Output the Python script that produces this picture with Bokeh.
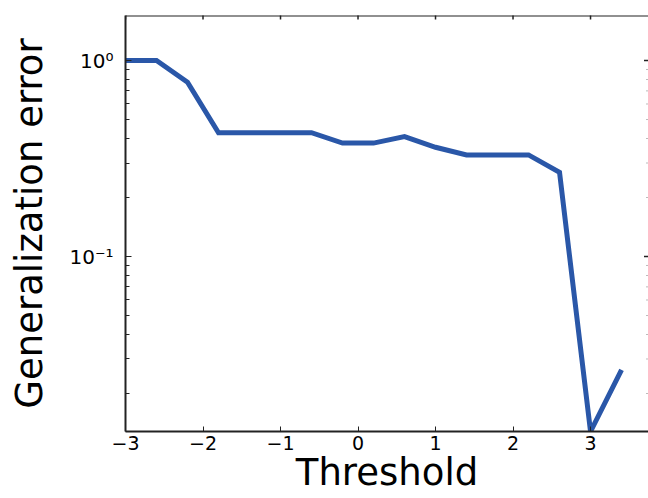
import math
from bokeh.plotting import figure
from bokeh.models import Range1d, FixedTicker, CustomJSTickFormatter
from bokeh.embed import file_html
from bokeh.resources import INLINE

# data
threshold = [-3.0, -2.6, -2.2, -1.8, -1.4, -1.0, -0.6, -0.2, 0.2, 0.6, 1.0, 1.4, 1.8, 2.2, 2.6, 3.0, 3.4]
gen_error = [1.0, 1.0, 0.775, 0.428, 0.428, 0.428, 0.428, 0.379, 0.379, 0.409, 0.361, 0.330, 0.330, 0.330, 0.269, 0.0128, 0.0264]

x_ticks = [-3, -2, -1, 0, 1, 2, 3]
x_tick_labels = ["\u22123", "\u22122", "\u22121", "0", "1", "2", "3"]
y_ticks = [0.1, 1.0]
y_tick_labels = ["10\u207b\u00b9", "10\u2070"]
y_minor = [0.02, 0.03, 0.04, 0.05, 0.06, 0.07, 0.08, 0.09, 0.2, 0.3, 0.4, 0.5, 0.6, 0.7, 0.8, 0.9]

AX = "#222222"
FONT = "DejaVu Sans"

xr = Range1d(-3, 3.748)
yr = Range1d(0.0128, 1.697)

p = figure(width=648, height=498, y_axis_type="log",
           x_range=xr, y_range=yr,
           output_backend="svg", toolbar_location=None,
           min_border_left=125, min_border_right=0, min_border_top=15, min_border_bottom=67)
p.outline_line_color = None
p.grid.visible = False
p.background_fill_color = "white"
p.border_fill_color = "white"

def fmt(tv, tl):
    return CustomJSTickFormatter(args=dict(tvals=tv, tlabels=tl), code="""
        for (let i = 0; i < tvals.length; i++) {
            if (Math.abs(tick - tvals[i]) < 1e-9 * Math.max(1, Math.abs(tvals[i]))) return tlabels[i];
        }
        return "";
    """)

xa = p.xaxis[0]
xa.ticker = FixedTicker(ticks=x_ticks, minor_ticks=[])
xa.formatter = fmt(x_ticks, x_tick_labels)
xa.major_tick_in = 5
xa.major_tick_out = 0
xa.minor_tick_in = 0
xa.minor_tick_out = 0
xa.axis_line_width = 2
xa.axis_line_color = AX
xa.major_tick_line_color = AX
xa.major_label_text_font = FONT
xa.major_label_text_font_size = "19px"
xa.major_label_text_color = "black"
xa.major_label_standoff = 4
xa.axis_label = "Threshold"
xa.axis_label_text_font = FONT
xa.axis_label_text_font_size = "37px"
xa.axis_label_text_font_style = "normal"
xa.axis_label_text_color = "black"
xa.axis_label_standoff = -2

ya = p.yaxis[0]
ya.ticker = FixedTicker(ticks=y_ticks, minor_ticks=y_minor)
ya.formatter = fmt(y_ticks, y_tick_labels)
ya.major_tick_in = 6
ya.major_tick_out = 0
ya.minor_tick_in = 4
ya.minor_tick_out = 0
ya.axis_line_width = 2
ya.axis_line_color = AX
ya.major_tick_line_color = AX
ya.minor_tick_line_color = AX
ya.major_label_text_font = FONT
ya.major_label_text_font_size = "20px"
ya.major_label_text_color = "black"
ya.major_label_standoff = 12
ya.axis_label = "Generalization error"
ya.axis_label_text_font = FONT
ya.axis_label_text_font_size = "37px"
ya.axis_label_text_font_style = "normal"
ya.axis_label_text_color = "black"
ya.axis_label_standoff = 15

# top spine and inward ticks
p.line([xr.start, xr.end], [yr.end, yr.end], line_width=2, line_color=AX)
p.scatter([float(t) for t in x_ticks], [yr.end] * len(x_ticks), marker="dash",
          angle=math.pi / 2, size=8, line_width=1.5, line_color=AX)
# right-side inward ticks (spine lies just outside the view)
p.scatter([xr.end] * len(y_ticks), y_ticks, marker="dash", size=9, line_width=1.5, line_color=AX)
p.scatter([xr.end] * len(y_minor), y_minor, marker="dash", size=5, line_width=1, line_color="#bbbbbb")

p.line(threshold, gen_error, line_width=5, line_color="#2a57a8", line_join="miter")

open("out.html", "w").write(file_html(p, INLINE))
